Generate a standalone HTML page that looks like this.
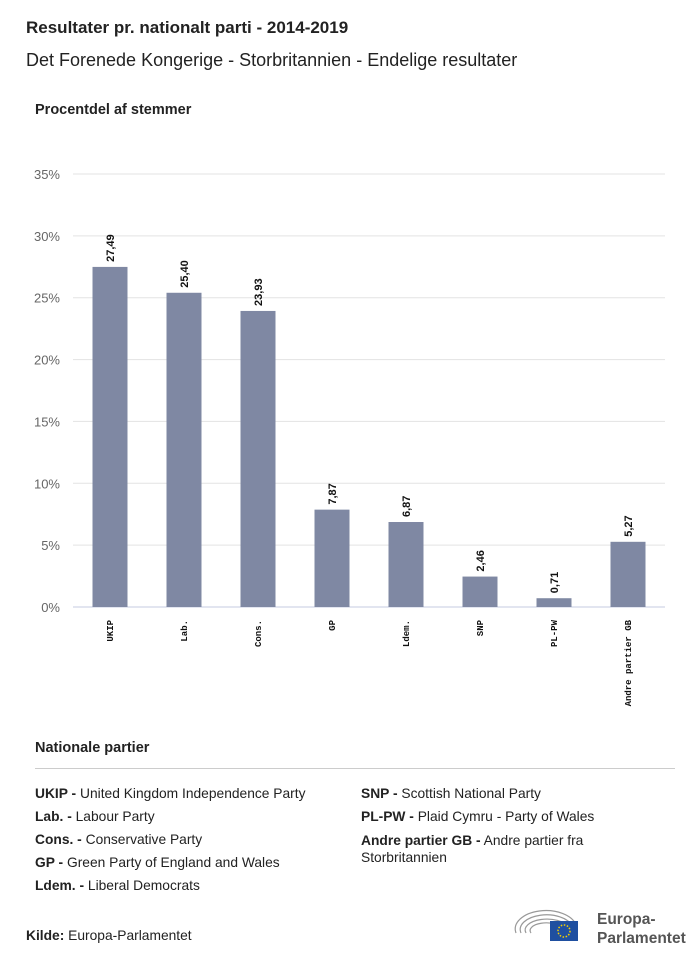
<!DOCTYPE html>
<html><head><meta charset="utf-8"><style>
body{margin:0;width:700px;height:962px;background:#fff;font-family:"Liberation Sans",sans-serif;color:#222;position:relative;overflow:hidden}
.a{position:absolute;white-space:nowrap}
.leg{font-size:13.8px;color:#222}
.leg b{font-weight:bold}
</style></head><body>
<div class="a" style="left:26px;top:18px;font-size:17px;font-weight:bold">Resultater pr. nationalt parti - 2014-2019</div>
<div class="a" style="left:26px;top:50px;font-size:18px">Det Forenede Kongerige - Storbritannien - Endelige resultater</div>
<div class="a" style="left:35px;top:102px;font-size:14.5px;font-weight:bold">Procentdel af stemmer</div>
<svg class="a" style="left:0;top:0" width="700" height="730" id="chart"></svg>
<div class="a" style="left:35px;top:740px;font-size:14.5px;font-weight:bold">Nationale partier</div>
<div class="a" style="left:35px;top:768px;width:640px;height:1px;background:#ccc"></div>
<div class="a leg" style="left:35px;top:786px"><b>UKIP -</b> United Kingdom Independence Party</div>
<div class="a leg" style="left:35px;top:809px"><b>Lab. -</b> Labour Party</div>
<div class="a leg" style="left:35px;top:832px"><b>Cons. -</b> Conservative Party</div>
<div class="a leg" style="left:35px;top:855px"><b>GP -</b> Green Party of England and Wales</div>
<div class="a leg" style="left:35px;top:878px"><b>Ldem. -</b> Liberal Democrats</div>
<div class="a leg" style="left:361px;top:786px"><b>SNP -</b> Scottish National Party</div>
<div class="a leg" style="left:361px;top:809px"><b>PL-PW -</b> Plaid Cymru - Party of Wales</div>
<div class="a leg" style="left:361px;top:832px;white-space:normal;width:260px;line-height:17px"><b>Andre partier GB -</b> Andre partier fra Storbritannien</div>
<div class="a leg" style="left:26px;top:928px"><b>Kilde:</b> Europa-Parlamentet</div>
<svg class="a" style="left:512px;top:905px" width="80" height="40">
<g fill="none" stroke="#999" stroke-width="1.2">
<path d="M4 28 A30 18 0 0 1 64 20"/><path d="M9 28 A25 14 0 0 1 60 21"/><path d="M14 28 A20 10 0 0 1 56 22"/><path d="M19 28 A15 7 0 0 1 50 23"/></g>
<rect x="38" y="16" width="28" height="20" fill="#1f4fa0"/>
<circle cx="52" cy="26" r="6" fill="none" stroke="#f5d100" stroke-width="1.5" stroke-dasharray="1.5 1.6"/>
</svg>
<div class="a" style="left:597px;top:910px;font-size:15.5px;line-height:19px;color:#555;font-weight:bold">Europa-<br>Parlamentet</div>
<script>
const categories=["UKIP","Lab.","Cons.","GP","Ldem.","SNP","PL-PW","Andre partier GB"];
const values=[27.49,25.40,23.93,7.87,6.87,2.46,0.71,5.27];
const valueLabels=["27,49","25,40","23,93","7,87","6,87","2,46","0,71","5,27"];
const yTicks=[0,5,10,15,20,25,30,35];
const svg=document.getElementById('chart');const NS='http://www.w3.org/2000/svg';
const y0=607,y1=174,x0=73,x1=665,yMax=35;
const y=v=>y0-(v/yMax)*(y0-y1);
const step=(x1-x0)/categories.length;const x=i=>x0+step*(i+0.5);const bw=35;
function mk(t,a){const e=document.createElementNS(NS,t);for(const k in a)e.setAttribute(k,a[k]);svg.appendChild(e);return e;}
yTicks.forEach(t=>{const l=mk('line',{x1:x0,x2:x1,y1:y(t),y2:y(t),stroke:t?'#e3e3e3':'#c5cbe0','stroke-width':1});


const tx=mk('text',{x:60,y:y(t)+5,'text-anchor':'end','font-size':13,fill:'#666','font-family':'Liberation Sans'});tx.textContent=t+'%';

});
categories.forEach((c,i)=>{const r=mk('rect',{x:x(i)-bw/2,y:y(values[i]),width:bw,height:y0-y(values[i]),fill:'#7f88a3'});


const vt=mk('text',{transform:`translate(${x(i)+4},${y(values[i])-5}) rotate(-90)`,'font-size':11,'font-weight':'bold',fill:'#111','font-family':'Liberation Sans'});vt.textContent=valueLabels[i];


const ct=mk('text',{transform:`translate(${x(i)+3},${y0+13}) rotate(-90)`,'text-anchor':'end','font-size':9,'font-weight':'bold',fill:'#111','font-family':'Liberation Mono'});ct.textContent=c;

});
</script>
</body></html>
